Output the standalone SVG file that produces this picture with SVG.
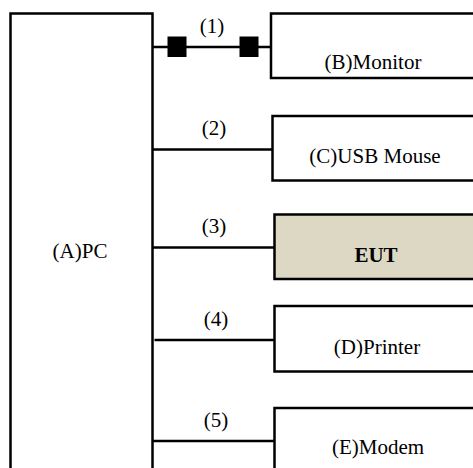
<svg xmlns="http://www.w3.org/2000/svg" width="473" height="468" viewBox="0 0 473 468">
  <style>
    .box { fill: #ffffff; stroke: #000000; stroke-width: 2.5; }
    .eut { fill: #ddd8c3; stroke: #000000; stroke-width: 2.5; }
    .wire { stroke: #000000; stroke-width: 2.5; fill: none; }
    .lbl { font-family: "Liberation Serif", "Times New Roman", serif; font-size: 21px; fill: #000; text-anchor: middle; }
    .name { font-family: "Liberation Serif", "Times New Roman", serif; font-size: 21px; fill: #000; text-anchor: middle; }
    .bold { font-weight: bold; }
  </style>

  <g id="node-pc">
    <rect class="box" x="10.5" y="13.5" width="142" height="470"/>
    <text class="name" x="80" y="258">(A)PC</text>
  </g>

  <g id="node-monitor">
    <rect class="box" x="271" y="13.5" width="220" height="64.5"/>
    <text class="name" x="373" y="69">(B)Monitor</text>
  </g>

  <g id="node-mouse">
    <rect class="box" x="272.5" y="116" width="220" height="64.5"/>
    <text class="name" x="375" y="163">(C)USB Mouse</text>
  </g>

  <g id="node-eut">
    <rect class="eut" x="274.5" y="214.5" width="220" height="64.5"/>
    <text class="name bold" x="376" y="262">EUT</text>
  </g>

  <g id="node-printer">
    <rect class="box" x="274.5" y="306" width="220" height="65.5"/>
    <text class="name" x="377" y="354">(D)Printer</text>
  </g>

  <g id="node-modem">
    <rect class="box" x="274.5" y="408" width="220" height="80"/>
    <text class="name" x="378" y="454">(E)Modem</text>
  </g>

  <g id="connectors">
    <line class="wire" x1="152.5" y1="47" x2="271" y2="47"/>
    <rect x="167.5" y="36.5" width="19" height="20.5" fill="#000"/>
    <rect x="239.5" y="36.5" width="19" height="20.5" fill="#000"/>
    <text class="lbl" x="212" y="33">(1)</text>

    <line class="wire" x1="152.5" y1="149.5" x2="272.5" y2="149.5"/>
    <text class="lbl" x="214" y="135">(2)</text>

    <line class="wire" x1="152.5" y1="247.5" x2="274.5" y2="247.5"/>
    <text class="lbl" x="214" y="233">(3)</text>

    <line class="wire" x1="154.5" y1="340" x2="274.5" y2="340"/>
    <text class="lbl" x="216" y="326">(4)</text>

    <line class="wire" x1="152.5" y1="441" x2="274.5" y2="441"/>
    <text class="lbl" x="216" y="427">(5)</text>
  </g>
</svg>
